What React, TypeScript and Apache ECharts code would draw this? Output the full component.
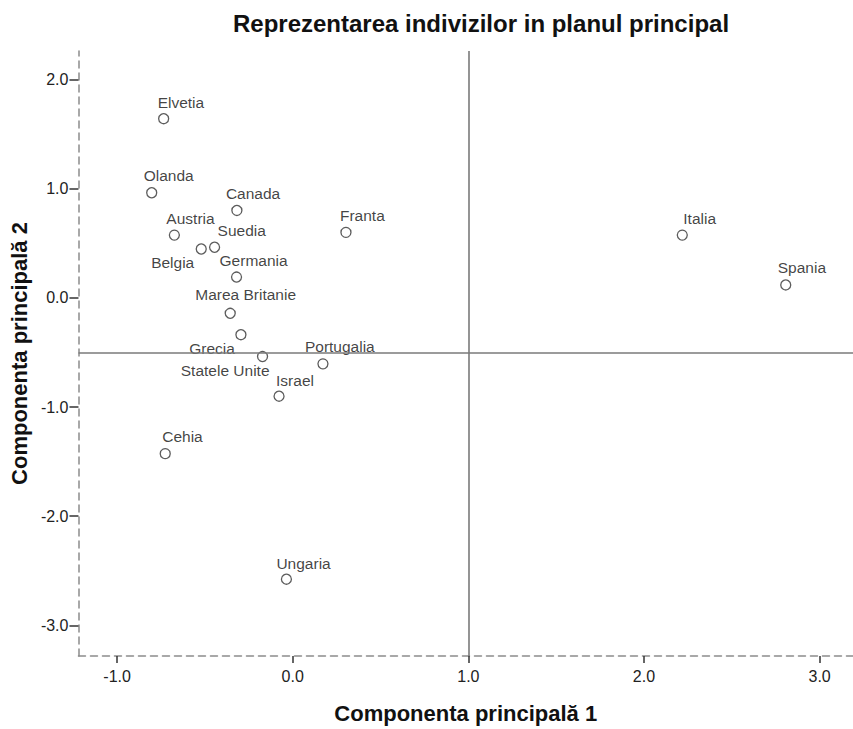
import React, { useEffect, useRef } from "react";
import * as echarts from "echarts";

const countries = [
  "Elvetia", "Olanda", "Canada", "Austria", "Suedia", "Belgia", "Franta",
  "Germania", "Marea Britanie", "Grecia", "Statele Unite", "Portugalia",
  "Israel", "Italia", "Spania", "Cehia", "Ungaria",
];
const comp1 = [
  -0.735, -0.803, -0.318, -0.674, -0.445, -0.521, 0.303,
  -0.32, -0.356, -0.295, -0.172, 0.172,
  -0.078, 2.218, 2.807, -0.726, -0.036,
];
const comp2 = [
  1.64, 0.962, 0.80, 0.574, 0.463, 0.447, 0.599,
  0.19, -0.142, -0.338, -0.538, -0.605,
  -0.901, 0.574, 0.118, -1.427, -2.577,
];
const xTicks = [-1, 0, 1, 2, 3];
const yTicks = [-3, -2, -1, 0, 1, 2];
const refX = 1.0;
const refY = -0.5;

const titleText = "Reprezentarea indivizilor in planul principal";
const xName = "Componenta principală 1";
const yName = "Componenta principală 2";

// label placement (styling): [align, dx, dy]
const labelPlace: Record<string, [string, number, number]> = {
  Elvetia: ["left", -6, -16],
  Olanda: ["left", -8, -17],
  Canada: ["left", -11, -17],
  Austria: ["left", -8, -17],
  Suedia: ["left", 3, -17],
  Belgia: ["right", -7, 14],
  Franta: ["left", -6, -17],
  Germania: ["left", -17, -17],
  "Marea Britanie": ["left", -35, -19],
  Grecia: ["right", -6, 14],
  "Statele Unite": ["right", 7, 14],
  Portugalia: ["left", -18, -17],
  Israel: ["left", -3, -16],
  Italia: ["left", 1, -17],
  Spania: ["left", -8, -17],
  Cehia: ["left", -3, -17],
  Ungaria: ["left", -10, -16],
};

const FONT = "'Liberation Sans', Arial, sans-serif";

export default function App() {
  const ref = useRef<HTMLDivElement>(null);
  useEffect(() => {
    if (!ref.current) return;
    const chart = echarts.init(ref.current, undefined, { renderer: "svg" });
    const data = countries.map((name, i) => {
      const p = labelPlace[name] || ["left", -7, -17];
      return {
        name,
        value: [comp1[i], comp2[i]],
        label: {
          show: true,
          position: "inside",
          align: p[0],
          verticalAlign: "middle",
          offset: [p[1], p[2]],
          formatter: name,
        },
      };
    });
    chart.setOption({
      animation: false,
      backgroundColor: "#ffffff",
      textStyle: { fontFamily: FONT },
      title: {
        text: titleText,
        left: 476,
        textAlign: "center",
        top: 6,
        textStyle: { fontFamily: FONT, fontSize: 24, fontWeight: "bold", color: "#111" },
      },
      grid: { left: 77, right: 0, top: 51, bottom: 64, containLabel: false },
      xAxis: {
        type: "value",
        min: -1.22,
        max: 3.19,
        name: xName,
        nameLocation: "middle",
        nameGap: 46,
        nameTextStyle: { fontFamily: FONT, fontSize: 22, fontWeight: "bold", color: "#111" },
        axisLine: { show: true, onZero: false, lineStyle: { color: "#8c8c8c", width: 1.5, type: [7, 5] } },
        axisTick: { show: true, customValues: xTicks, length: 7, lineStyle: { color: "#333", width: 1.5 } },
        axisLabel: {
          customValues: xTicks,
          margin: 12,
          fontSize: 16,
          color: "#222",
          fontFamily: FONT,
          formatter: (v: number) => v.toFixed(1),
        },
        splitLine: { show: false },
      },
      yAxis: {
        type: "value",
        min: -3.28,
        max: 2.26,
        name: yName,
        nameLocation: "middle",
        nameRotate: 90,
        nameGap: 46,
        nameTextStyle: { fontFamily: FONT, fontSize: 22, fontWeight: "bold", color: "#111" },
        axisLine: { show: true, onZero: false, lineStyle: { color: "#8c8c8c", width: 1.5, type: [7, 5] } },
        axisTick: { show: true, customValues: yTicks, length: 9, lineStyle: { color: "#333", width: 1.5 } },
        axisLabel: {
          customValues: yTicks,
          margin: 10,
          fontSize: 16,
          color: "#222",
          fontFamily: FONT,
          formatter: (v: number) => v.toFixed(1),
        },
        splitLine: { show: false },
      },
      series: [
        {
          type: "scatter",
          data,
          symbol: "circle",
          symbolSize: 10,
          itemStyle: { color: "#ffffff", borderColor: "#333", borderWidth: 1.3 },
          label: { color: "#111", fontSize: 15.5, fontFamily: FONT },
          emphasis: { disabled: true },
          markLine: {
            silent: true,
            symbol: "none",
            label: { show: false },
            lineStyle: { color: "#7a7a7a", width: 1.6, type: "solid" },
            data: [{ xAxis: refX }, { yAxis: refY }],
          },
          z: 3,
        },
      ],
    });
    return () => chart.dispose();
  }, []);
  return (
    <div
      ref={ref}
      style={{ position: "fixed", left: 0, top: 0, width: 853, height: 729 }}
    />
  );
}
